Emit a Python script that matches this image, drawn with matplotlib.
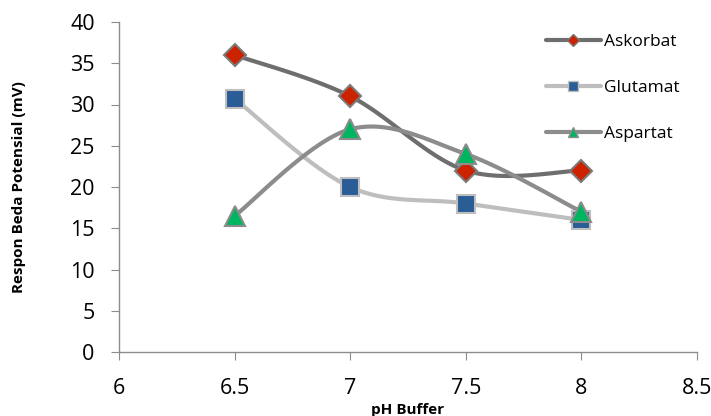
import numpy as np
import matplotlib
matplotlib.use("Agg")
import matplotlib.pyplot as plt
from matplotlib.lines import Line2D

ph = [6.5, 7, 7.5, 8]
askorbat = [36, 31, 22, 22]
glutamat = [30.7, 20, 18, 16]
aspartat = [16.5, 27, 24, 17]
xticks = [6, 6.5, 7, 7.5, 8, 8.5]
yticks = [0, 5, 10, 15, 20, 25, 30, 35, 40]

plt.rcParams['font.family'] = ['Open Sans', 'DejaVu Sans']

W, H = 711, 416
fig = plt.figure(figsize=(W / 100, H / 100), dpi=100)
ax = fig.add_axes([119 / W, 1 - 352 / H, (697 - 119) / W, (352 - 22) / H])
ax.set_xlim(6, 8.5)
ax.set_ylim(0, 40)

axw, axh = 697 - 119, 352 - 22


def smooth(xs, ys, n=40):
    # Excel-like smoothing (Catmull-Rom Bezier) computed in pixel space
    px = (np.asarray(xs, float) - 6) / 2.5 * axw
    py = np.asarray(ys, float) / 40 * axh
    P = np.column_stack([px, py])
    m = len(P)
    out = []
    for i in range(m - 1):
        p0 = P[i - 1] if i > 0 else P[i]
        p1 = P[i]
        p2 = P[i + 1]
        p3 = P[i + 2] if i + 2 < m else P[i + 1]
        c1 = p1 + (p2 - p0) / 6
        c2 = p2 - (p3 - p1) / 6
        t = np.linspace(0, 1, n)[:, None]
        seg = ((1 - t) ** 3) * p1 + 3 * ((1 - t) ** 2) * t * c1 + 3 * (1 - t) * t ** 2 * c2 + t ** 3 * p2
        out.append(seg if i == 0 else seg[1:])
    C = np.vstack(out)
    return C[:, 0] / axw * 2.5 + 6, C[:, 1] / axh * 40


series = [
    ("Askorbat", askorbat, "#6E6E6E", "D", "#CC2200", "#7A7A7A", 11),
    ("Glutamat", glutamat, "#BEBEBE", "s", "#2A5C96", "#BEBEBE", 13),
    ("Aspartat", aspartat, "#8C8C8C", "^", "#00B560", "#8C8C8C", 14),
]

handles = []
for name, ys, lc, mk, fc, ec, ms in series:
    sx, sy = smooth(ph, ys)
    ax.plot(sx, sy, color=lc, lw=3, solid_capstyle='round', zorder=2)
for name, ys, lc, mk, fc, ec, ms in series:
    ax.plot(ph, ys, linestyle='none', marker=mk, markersize=ms,
            markerfacecolor=fc, markeredgecolor=ec, markeredgewidth=1.5, zorder=3)
    handles.append(Line2D([0], [0], color=lc, lw=3, solid_capstyle='round', marker=mk,
                          markersize=ms * 0.55, markerfacecolor=fc,
                          markeredgecolor=ec, markeredgewidth=1))

for s in ['top', 'right']:
    ax.spines[s].set_visible(False)
for s in ['left', 'bottom']:
    ax.spines[s].set_color('#8C8C8C')
    ax.spines[s].set_linewidth(1)

ax.set_xticks(xticks)
ax.set_xticklabels([f"{v:g}" for v in xticks])
ax.set_yticks(yticks)
ax.tick_params(axis='both', direction='out', length=5.5, color='#8C8C8C',
               labelsize=15.5)
ax.tick_params(axis='y', pad=12)
ax.tick_params(axis='x', pad=13)

ax.set_xlabel("pH Buffer", fontsize=11, fontweight='bold', labelpad=3)
ax.set_ylabel("Respon Beda Potensial (mV)", fontsize=11, fontweight='bold', labelpad=32)

leg = ax.legend(handles, [s[0] for s in series], loc='upper left',
                bbox_to_anchor=((530 - 119) / axw, 1.01), frameon=False,
                fontsize=12.5, handlelength=3.2, handletextpad=0.15,
                labelspacing=1.7)

fig.savefig("out.png", dpi=100)
